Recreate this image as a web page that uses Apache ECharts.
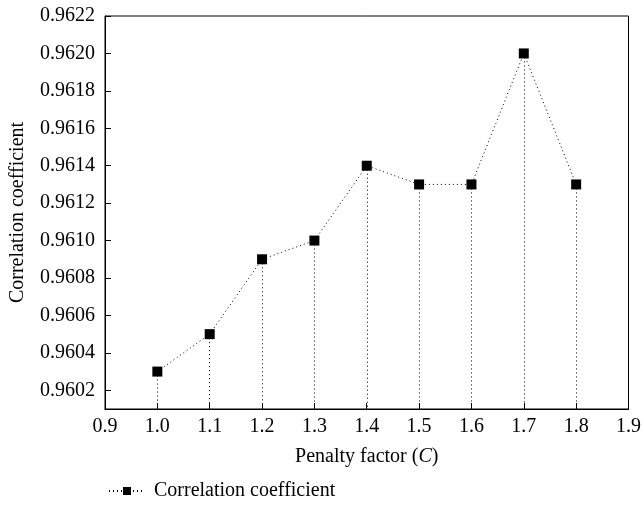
<!DOCTYPE html>
<html>
<head>
<meta charset="utf-8">
<script src="https://cdn.jsdelivr.net/npm/echarts@6/dist/echarts.min.js"></script>
<style>html,body{margin:0;padding:0;background:#fff}#c{width:644px;height:511px}</style>
</head>
<body>
<div id="c"></div>
<script>
var penalty = [1.0, 1.1, 1.2, 1.3, 1.4, 1.5, 1.6, 1.7, 1.8];
var corr = [0.9603, 0.9605, 0.9609, 0.9610, 0.9614, 0.9613, 0.9613, 0.9620, 0.9613];
var yTicks = [0.9602, 0.9604, 0.9606, 0.9608, 0.9610, 0.9612, 0.9614, 0.9616, 0.9618, 0.9620, 0.9622];
var xMin = 0.9, xMax = 1.9, yMin = 0.9601, yMax = 0.9622;
var seriesName = 'Correlation coefficient';

var FONT = 'Liberation Serif';
var chart = echarts.init(document.getElementById('c'));
var pts = penalty.map(function (x, i) { return [x, corr[i]]; });
var drops = penalty.map(function (x, i) { return [{ coord: [x, corr[i]] }, { coord: [x, yMin] }]; });

chart.setOption({
  animation: false,
  textStyle: { fontFamily: FONT, color: '#000' },
  grid: { left: 103, right: 12, top: 16, bottom: 102, show: true, borderColor: '#000', borderWidth: 1 },
  legend: {
    bottom: 5, left: 103,
    itemWidth: 36, itemHeight: 10,
    textStyle: { fontFamily: FONT, fontSize: 20, color: '#000', padding: [0, 0, 0, 4] },
    data: [seriesName]
  },
  xAxis: {
    type: 'value', min: xMin, max: xMax, interval: 0.1,
    name: 'Penalty factor ({i|C})', nameLocation: 'middle', nameGap: 38,
    nameTextStyle: { fontFamily: FONT, fontSize: 20, color: '#000', rich: { i: { fontStyle: 'italic', fontFamily: FONT, fontSize: 20 } } },
    axisLine: { lineStyle: { color: '#000', width: 1 } },
    axisTick: { inside: true, length: 6, lineStyle: { color: '#000' } },
    axisLabel: { fontFamily: FONT, fontSize: 20, color: '#000', margin: 8, formatter: function (v) { return v.toFixed(1); } },
    splitLine: { show: false }
  },
  yAxis: {
    type: 'value', min: yMin, max: yMax,
    name: 'Correlation coefficient', nameLocation: 'middle', nameGap: 77,
    nameTextStyle: { fontFamily: FONT, fontSize: 20, color: '#000' },
    axisLine: { show: true, lineStyle: { color: '#000', width: 1 } },
    axisTick: { show: true, inside: true, length: 6, lineStyle: { color: '#000' }, customValues: yTicks },
    axisLabel: { fontFamily: FONT, fontSize: 20, color: '#000', margin: 10, customValues: yTicks, formatter: function (v) { return v.toFixed(4); } },
    splitLine: { show: false }
  },
  series: [{
    name: seriesName,
    type: 'line',
    data: pts,
    symbol: 'rect', symbolSize: 10,
    itemStyle: { color: '#000' },
    lineStyle: { color: '#000', width: 1, type: [1, 3] },
    markLine: {
      silent: true, symbol: 'none', label: { show: false },
      lineStyle: { color: '#000', width: 1, type: [1, 3] },
      emphasis: { disabled: true },
      data: drops
    }
  }]
});
</script>
</body>
</html>
